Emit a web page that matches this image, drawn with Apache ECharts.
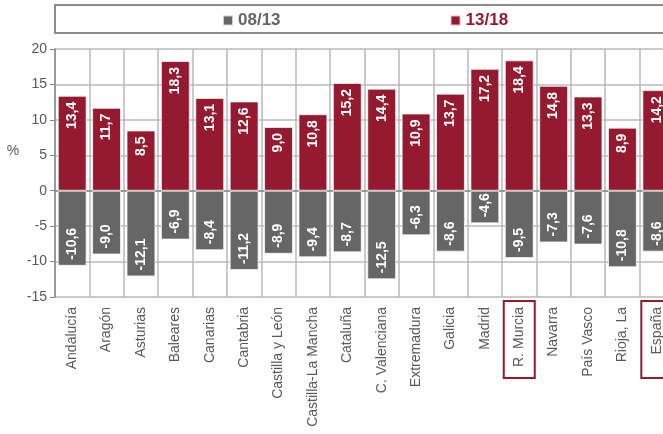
<!DOCTYPE html>
<html>
<head>
<meta charset="utf-8">
<script src="https://cdn.jsdelivr.net/npm/echarts@6/dist/echarts.min.js"></script>
<style>html,body{margin:0;padding:0;background:#fff;}#c{width:663px;height:434px;}</style>
</head>
<body>
<div id="c"></div>
<script>
const categories = ['Andalucía','Aragón','Asturias','Baleares','Canarias','Cantabria','Castilla y León','Castilla-La Mancha','Cataluña','C. Valenciana','Extremadura','Galicia','Madrid','R. Murcia','Navarra','País Vasco','Rioja, La','España'];
const v0813 = [-10.6,-9.0,-12.1,-6.9,-8.4,-11.2,-8.9,-9.4,-8.7,-12.5,-6.3,-8.6,-4.6,-9.5,-7.3,-7.6,-10.8,-8.6];
const v1318 = [13.4,11.7,8.5,18.3,13.1,12.6,9.0,10.8,15.2,14.4,10.9,13.7,17.2,18.4,14.8,13.3,8.9,14.2];
const highlighted = ['R. Murcia','España'];
const yTicks = {min:-15, max:20, interval:5};

const RED = '#951a30', GREY = '#666666', TXT = '#595959';
const FONT = '"Liberation Sans", Arial, sans-serif';
const fmt = v => v.toFixed(1).replace('.', ',');

const chart = echarts.init(document.getElementById('c'), null, {renderer:'canvas'});
const lblBase = {width:71, height:31, align:'right', padding:[0,6,0,0], fontSize:14, fontFamily:FONT, color:TXT};
chart.setOption({
  animation:false,
  textStyle:{fontFamily:FONT},
  graphic:[
    {type:'rect', shape:{x:55, y:5, width:700, height:28}, style:{fill:'none', stroke:'#8c8c8c', lineWidth:2}},
    {type:'text', x:13, y:151, style:{text:'%', fontSize:14, fontFamily:FONT, fill:TXT, align:'center', verticalAlign:'middle'}}
  ],
  legend:{
    left:222, top:12, padding:0, itemWidth:10, itemHeight:10, itemGap:170, icon:'rect', itemGap:169,
    textStyle:{fontSize:17, fontWeight:'bold', fontFamily:FONT},
    data:[{name:'08/13', textStyle:{color:GREY}}, {name:'13/18', textStyle:{color:RED}}]
  },
  grid:{left:55, top:49, width:619, height:248, show:false, outerBoundsMode:'none', containLabel:false},
  xAxis:{
    type:'category', data:categories, boundaryGap:true,
    axisLine:{lineStyle:{color:'#888', width:1.5}},
    axisTick:{show:false},
    splitLine:{show:true, lineStyle:{color:'#b8b8b8', width:1.5}},
    axisLabel:{
      rotate:90, margin:4, interval:0,
      formatter: v => highlighted.includes(v) ? '{hl|' + v + '}' : '{n|' + v + '}',
      rich:{
        n: Object.assign({}, lblBase),
        hl: Object.assign({}, lblBase, {borderColor:RED, borderWidth:2})
      }
    }
  },
  yAxis:{
    type:'value', min:yTicks.min, max:yTicks.max, interval:yTicks.interval,
    axisLine:{show:true, lineStyle:{color:'#888', width:1.5}},
    axisTick:{show:true, length:5, lineStyle:{color:'#888'}},
    splitLine:{lineStyle:{color:'#b8b8b8', width:1.5}},
    axisLabel:{fontSize:14, color:TXT, margin:8, fontFamily:FONT}
  },
  series:[
    {name:'08/13', type:'bar', data:v0813, barWidth:'84%', barGap:'-100%',
     itemStyle:{color:GREY, borderColor:'rgba(255,255,255,0.7)', borderWidth:1},
     label:{show:true, position:'insideBottom', rotate:90, align:'left', verticalAlign:'middle', distance:6,
            color:'#fff', fontWeight:'bold', fontSize:14, fontFamily:FONT, formatter:p=>fmt(p.value)}},
    {name:'13/18', type:'bar', data:v1318, barWidth:'84%', barGap:'-100%',
     itemStyle:{color:RED, borderColor:'rgba(255,255,255,0.7)', borderWidth:1},
     label:{show:true, position:'insideTop', rotate:90, align:'right', verticalAlign:'middle', distance:6,
            color:'#fff', fontWeight:'bold', fontSize:14, fontFamily:FONT, formatter:p=>fmt(p.value)}}
  ]
});
</script>
</body>
</html>
